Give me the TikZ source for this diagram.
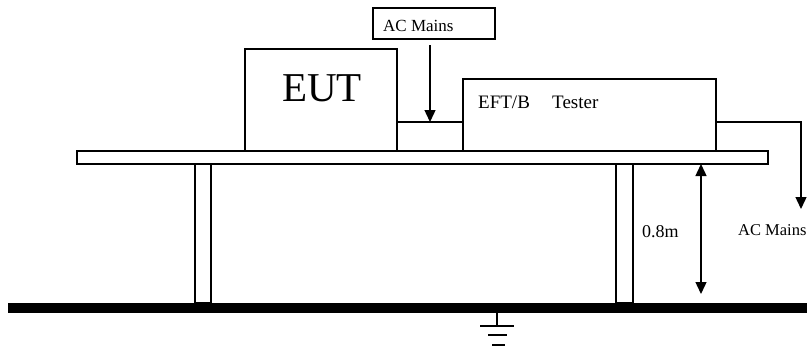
\documentclass[tikz,border=0pt]{standalone}
\usepackage{fontspec}
\setmainfont{Liberation Serif}
\usetikzlibrary{arrows.meta}
\begin{document}
\begin{tikzpicture}[x=1pt,y=-1pt,
  box/.style={draw,line width=1.4pt,inner sep=0pt,outer sep=0pt,anchor=north west},
  lbl/.style={inner sep=0pt,anchor=base west},
  wire/.style={line width=1.4pt},
  arr/.style={wire,-{Triangle[length=12pt,width=11pt]}},
  dim/.style={wire,{Triangle[length=12pt,width=11pt]}-{Triangle[length=12pt,width=11pt]}}]
\useasboundingbox (0,0) rectangle (807,349);
% boxes
\node[box,minimum width=122pt,minimum height=31pt] (acbox) at (373,8) {};
\node[box,minimum width=152pt,minimum height=102pt] (eut) at (245,49) {};
\node[box,minimum width=66pt,minimum height=29pt] (link) at (397,122) {};
\node[box,minimum width=253pt,minimum height=72pt] (tester) at (463,79) {};
\node[box,minimum width=691pt,minimum height=13pt] (table) at (77,151) {};
\node[box,minimum width=16pt,minimum height=139pt] (legl) at (195,164) {};
\node[box,minimum width=17pt,minimum height=139pt] (legr) at (616,164) {};
% texts
\node[lbl] (actop) at (383,31) {\fontsize{17}{17}\selectfont AC Mains};
\node[lbl] (eutt) at (282,101) {\fontsize{41}{41}\selectfont EUT};
\node[lbl] (eftb) at (478,108) {\fontsize{19}{19}\selectfont EFT/B};
\node[lbl] (tst) at (552,108) {\fontsize{19}{19}\selectfont Tester};
\node[lbl] (acright) at (738,235) {\fontsize{16.5}{16.5}\selectfont AC Mains};
\node[lbl] (hgt) at (642,237) {\fontsize{18}{18}\selectfont 0.8m};
% ground plane
\coordinate (gl) at (8,308);
\coordinate (gr) at (807,308);
\draw[line width=10pt] (gl) -- (gr);
% connectors
\coordinate (a1) at (430,45);
\draw[arr] (a1) -- (a1 |- link.north);
\coordinate (c1) at (801,122);
\coordinate (c2) at (801,209);
\draw[arr] (c1 -| tester.east) -- (c1) -- (c2);
\coordinate (d1) at (701,164);
\coordinate (d2) at (701,294);
\draw[dim] (d1) -- (d2);
% earth symbol
\coordinate (e0) at (497,313);
\coordinate (e1) at (497,326);
\draw[line width=1.5pt] (e0) -- (e1);
\draw[line width=2.2pt] (480,326) -- (514,326);
\draw[line width=2.2pt] (488,335) -- (507,335);
\draw[line width=2.2pt] (492,345) -- (505,345);
\end{tikzpicture}
\end{document}
